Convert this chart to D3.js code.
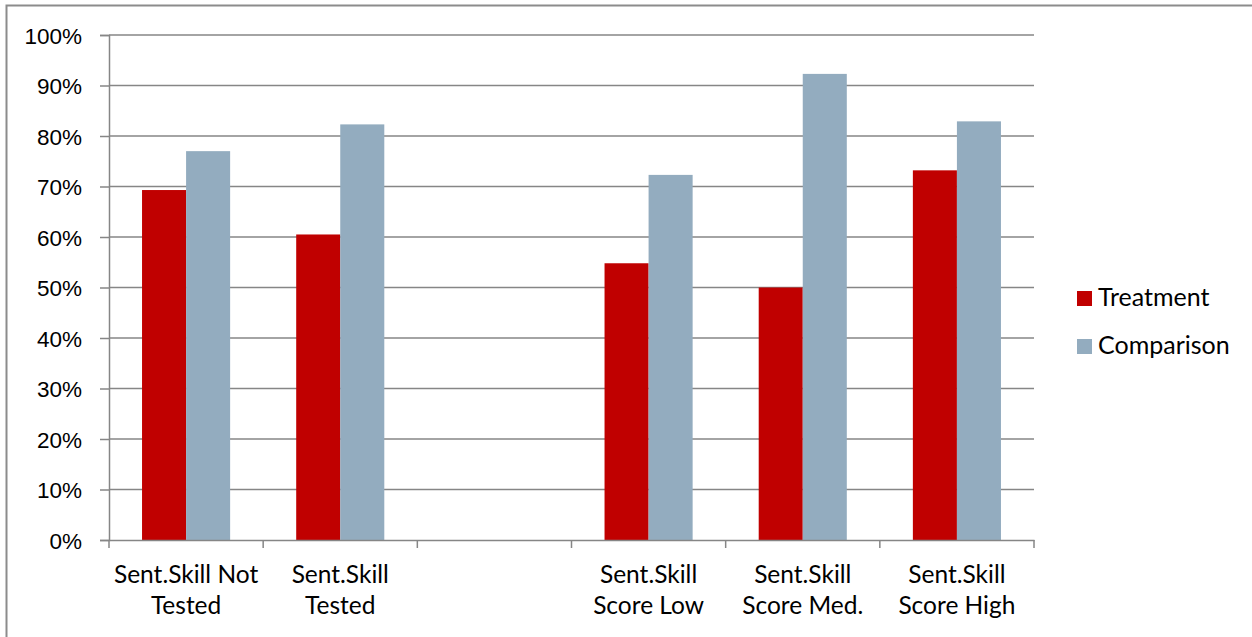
<!DOCTYPE html>
<html>
<head>
<meta charset="utf-8">
<script src="https://cdnjs.cloudflare.com/ajax/libs/d3/7.8.5/d3.min.js"></script>
<style>
	body { margin: 0; background: #fff; }
	svg { display: block; font-family: Lato, "Open Sans", sans-serif; }
</style>
</head>
<body>
<div id="chart"></div>
<script>
// categories (the 3rd slot is an empty gap in the original)
var categories = ["notTested", "tested", "gap", "low", "med", "high"];
var categoryLabels = [
	["Sent.Skill Not", "Tested"],
	["Sent.Skill", "Tested"],
	[],
	["Sent.Skill", "Score Low"],
	["Sent.Skill", "Score Med."],
	["Sent.Skill", "Score High"]
];
var seriesNames = ["Treatment", "Comparison"];
var treatment = [0.693, 0.605, null, 0.548, 0.500, 0.732];
var comparison = [0.770, 0.823, null, 0.723, 0.923, 0.829];
var yTicks = [0, 0.1, 0.2, 0.3, 0.4, 0.5, 0.6, 0.7, 0.8, 0.9, 1.0];
var colors = ["#c00000", "#93acbf"];

var width = 1252, height = 637;
var dims = { left: 109, right: 1034, top: 35, bottom: 540 };

var svg = d3.select("#chart").append("svg")
	.attr("width", width)
	.attr("height", height);

// outer frame (runs off right/bottom edges like the source)
svg.append("rect")
	.attr("x", 6.5).attr("y", 5.5)
	.attr("width", 1300).attr("height", 700)
	.attr("fill", "none")
	.attr("stroke", "#8c8c8c")
	.attr("stroke-width", 2);

var x0 = d3.scaleBand()
	.domain(categories)
	.range([dims.left, dims.right])
	.padding(0);

var x1 = d3.scaleBand()
	.domain(seriesNames)
	.range([0, x0.bandwidth()])
	.paddingInner(0)
	.paddingOuter(0.75);

var y = d3.scaleLinear()
	.domain([0, 1])
	.range([dims.bottom, dims.top]);

// gridlines + y axis
var yAxis = d3.axisLeft(y)
	.tickValues(yTicks)
	.tickSize(9)
	.tickFormat(d3.format(".0%"));

var gy = svg.append("g")
	.attr("transform", "translate(" + dims.left + ",0)")
	.call(yAxis);
gy.select(".domain").attr("stroke", "#868686").attr("stroke-width", 1.5);
gy.selectAll(".tick line").attr("stroke", "#868686").attr("stroke-width", 1.5);
gy.selectAll(".tick text")
	.attr("x", -27)
	.attr("dy", "0.36em")
	.attr("fill", "#000")
	.style("font-size", "22.5px");

svg.append("g")
	.selectAll("line")
	.data(yTicks.filter(function(d) { return d > 0; }))
	.enter().append("line")
		.attr("x1", dims.left).attr("x2", dims.right)
		.attr("y1", function(d) { return y(d); })
		.attr("y2", function(d) { return y(d); })
		.attr("stroke", "#868686")
		.attr("stroke-width", 1.5);

// bars
var rows = categories.map(function(c, i) {
	return { cat: c, vals: [treatment[i], comparison[i]] };
});

svg.append("g")
	.selectAll("g")
	.data(rows)
	.enter().append("g")
		.attr("transform", function(d) { return "translate(" + x0(d.cat) + ",0)"; })
	.selectAll("rect")
	.data(function(d) {
		return d.vals.map(function(v, j) { return { name: seriesNames[j], v: v, j: j }; })
			.filter(function(e) { return e.v != null; });
	})
	.enter().append("rect")
		.attr("x", function(d) { return x1(d.name); })
		.attr("width", x1.bandwidth())
		.attr("y", function(d) { return y(d.v); })
		.attr("height", function(d) { return y(0) - y(d.v); })
		.attr("fill", function(d) { return colors[d.j]; });

// x axis
var xAxis = d3.axisBottom(x0).tickSize(0).tickFormat("");
var gx = svg.append("g")
	.attr("transform", "translate(0," + dims.bottom + ")")
	.call(xAxis);
gx.select(".domain").attr("stroke", "#868686").attr("stroke-width", 1.5);

var bounds = categories.map(function(c) { return x0(c); }).concat([dims.right]);
gx.selectAll(".bound")
	.data(bounds)
	.enter().append("line")
		.attr("class", "bound")
		.attr("x1", function(d) { return d; })
		.attr("x2", function(d) { return d; })
		.attr("y1", 0).attr("y2", 8)
		.attr("stroke", "#868686")
		.attr("stroke-width", 1.5);

var labels = svg.append("g");
categories.forEach(function(c, i) {
	var t = labels.append("text")
		.attr("x", x0(c) + x0.bandwidth() / 2)
		.attr("y", 583)
		.attr("text-anchor", "middle")
		.style("font-size", "24.5px")
		.attr("fill", "#000");
	categoryLabels[i].forEach(function(line, k) {
		t.append("tspan")
			.attr("x", x0(c) + x0.bandwidth() / 2)
			.attr("dy", k == 0 ? 0 : 31)
			.text(line);
	});
});

// legend
var legend = svg.append("g").attr("transform", "translate(1077,0)");
seriesNames.forEach(function(s, i) {
	var yy = 291 + i * 48;
	legend.append("rect")
		.attr("x", 0).attr("y", yy)
		.attr("width", 15).attr("height", 15)
		.attr("fill", colors[i]);
	legend.append("text")
		.attr("x", 21).attr("y", yy + 15)
		.style("font-size", "25px")
		.attr("fill", "#000")
		.text(s);
});
</script>
</body>
</html>
